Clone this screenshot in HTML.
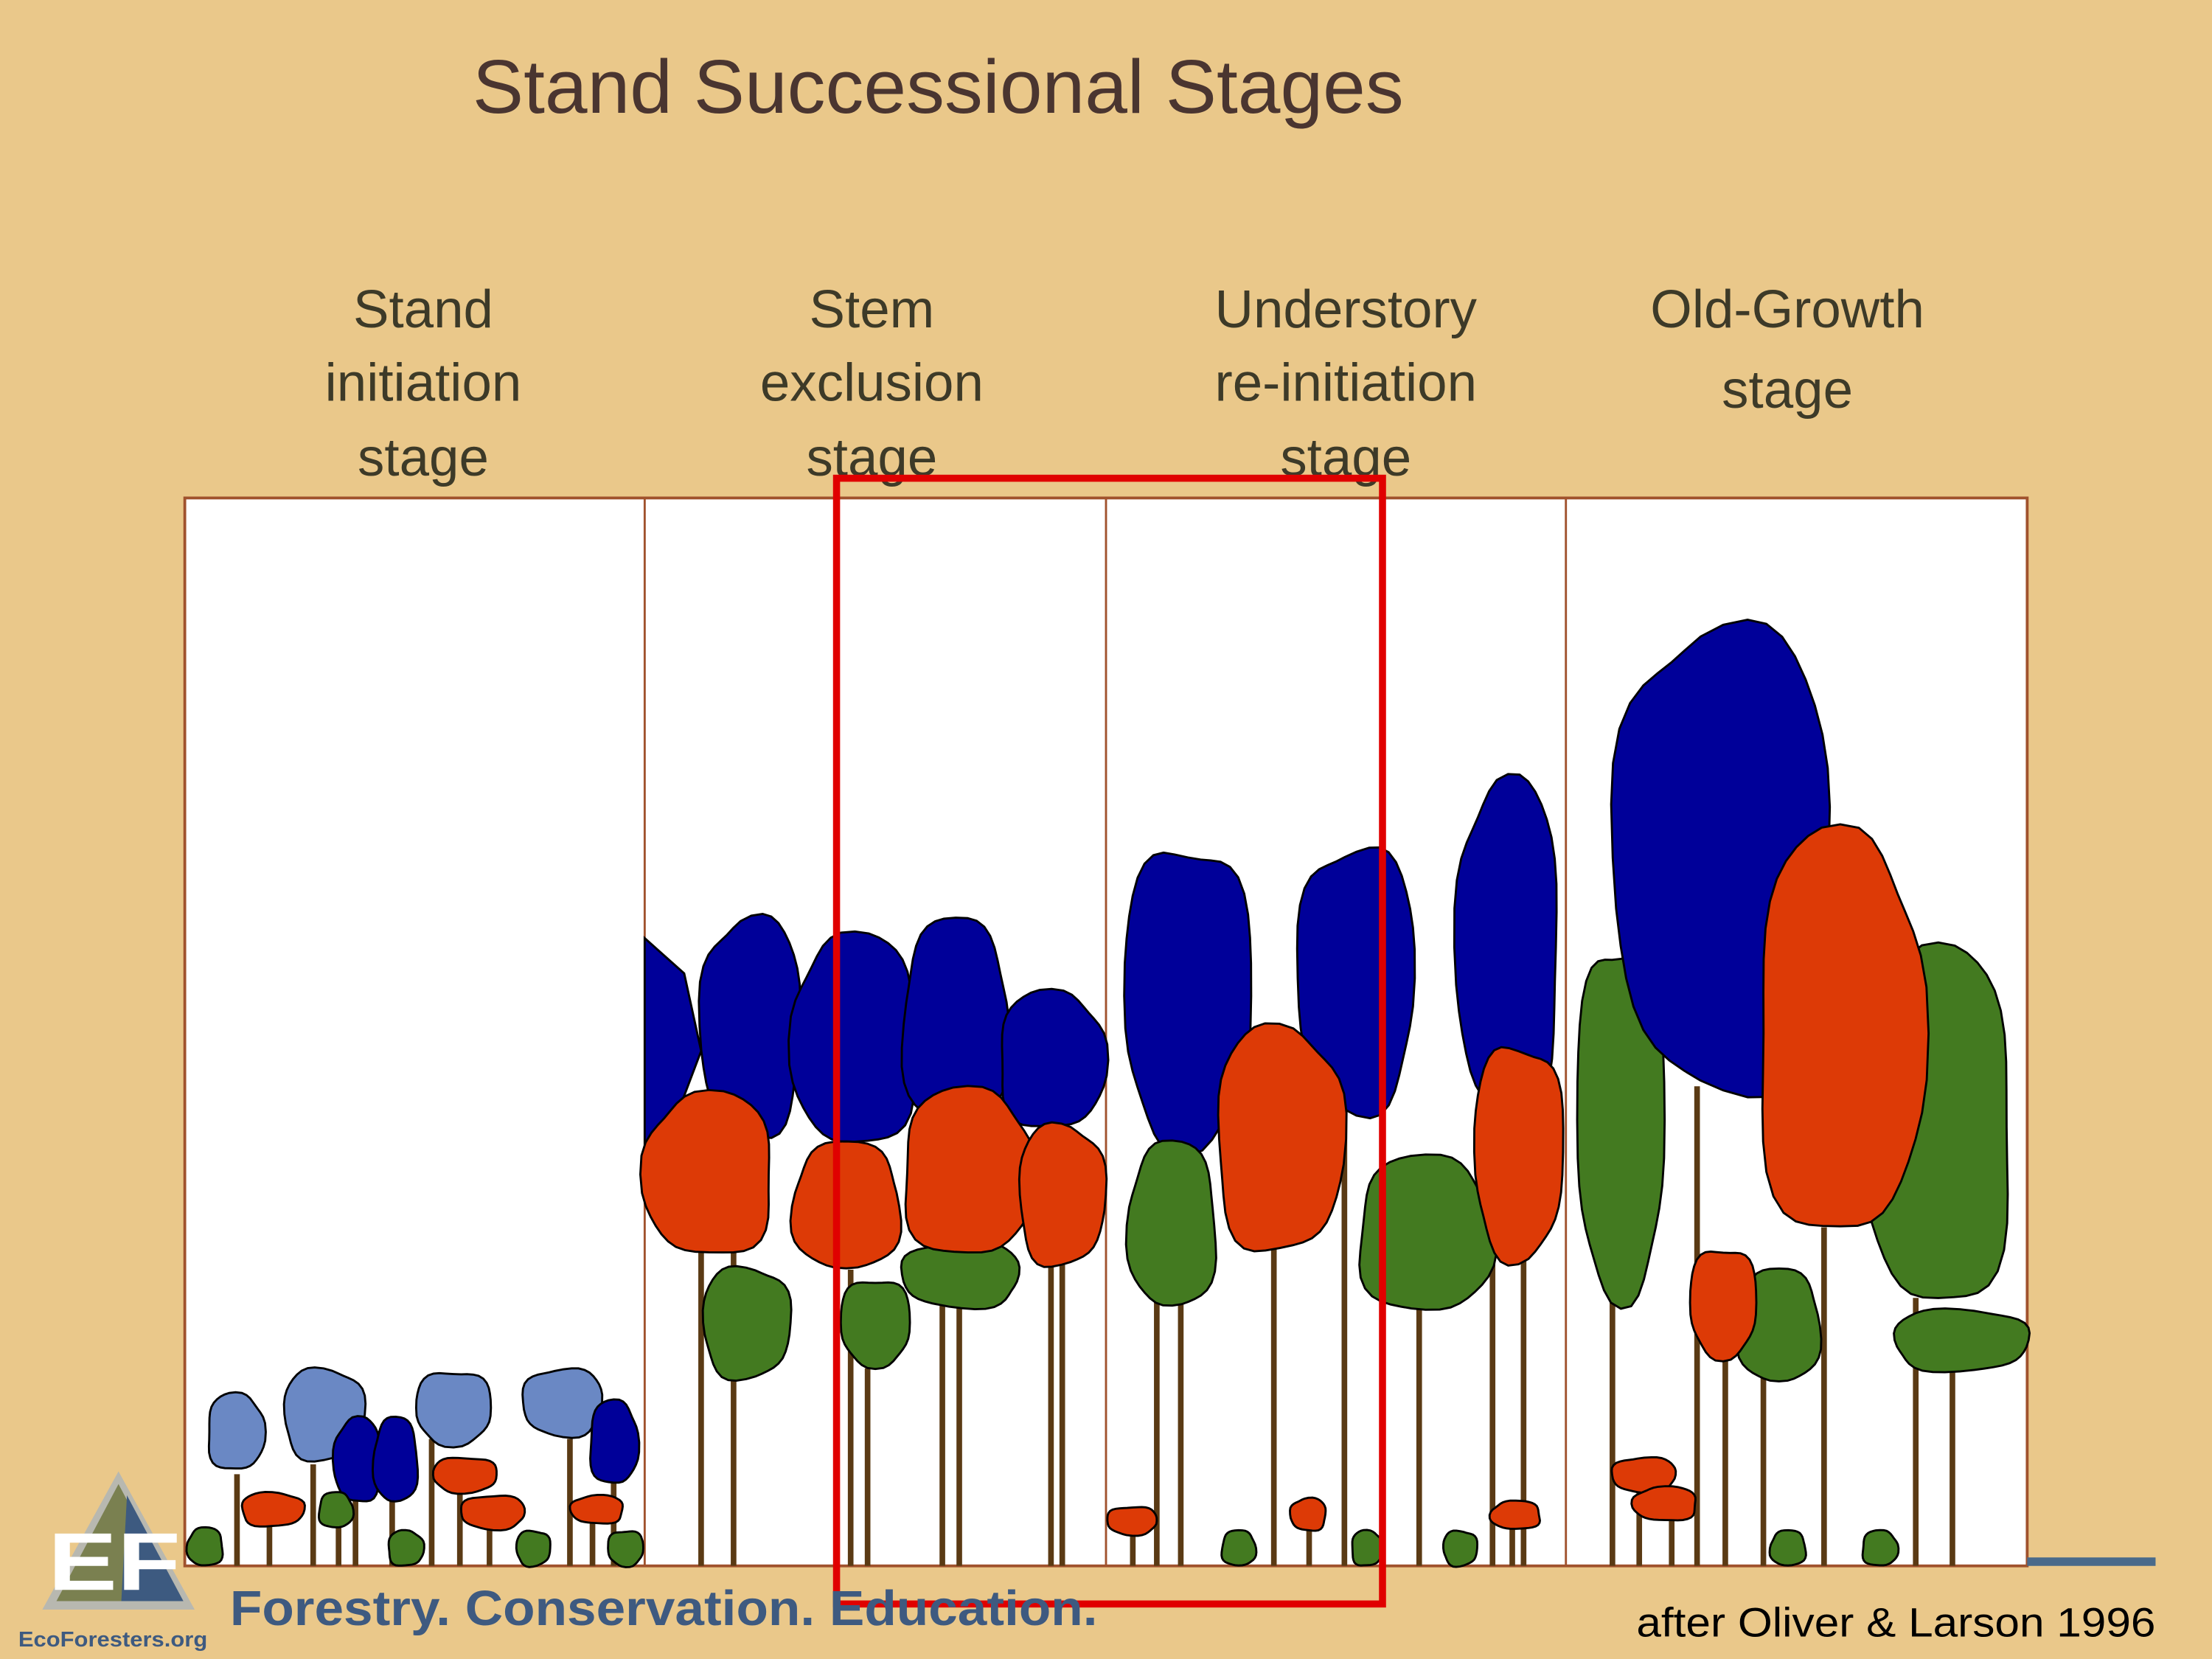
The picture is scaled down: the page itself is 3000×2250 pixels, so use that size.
<!DOCTYPE html>
<html><head><meta charset="utf-8"><style>
html,body{margin:0;padding:0;background:#EAC88A;}
svg{display:block}
text{font-family:"Liberation Sans",sans-serif}
</style></head><body>
<svg id="s" xmlns="http://www.w3.org/2000/svg" width="3000" height="2250" viewBox="0 0 1568 1176">
<rect width="1568" height="1176" fill="#EAC88A"/>
<text x="335" y="80" font-size="54" fill="#4a3530" textLength="660" lengthAdjust="spacingAndGlyphs">Stand Successional Stages</text>
<g font-size="38" fill="#3d3a28" text-anchor="middle">
<text x="300" y="232">Stand</text><text x="300" y="284">initiation</text><text x="300" y="337">stage</text>
<text x="618" y="232">Stem</text><text x="618" y="284">exclusion</text><text x="618" y="337">stage</text>
<text x="954" y="232">Understory</text><text x="954" y="284">re-initiation</text><text x="954" y="337">stage</text>
<text x="1267" y="232">Old-Growth</text><text x="1267" y="289">stage</text>
</g>
<rect x="131" y="353" width="1306" height="757" fill="#fff" stroke="#a0522d" stroke-width="2"/>
<g stroke="#a0522d" stroke-width="1.5"><line x1="457" y1="353" x2="457" y2="1110"/><line x1="784" y1="353" x2="784" y2="1110"/><line x1="1110" y1="353" x2="1110" y2="1110"/></g>
<g id="trunks" stroke="#5a3a14" stroke-width="4"></g>
<g id="crowns" stroke="#000" stroke-width="1.5"></g>
<line x1="1437" y1="1107" x2="1528" y2="1107" stroke="#4a6a8a" stroke-width="6"/>
<rect x="593" y="339" width="387" height="798" fill="none" stroke="#e00000" stroke-width="5"/>
<text x="163" y="1152" font-size="35" font-weight="bold" fill="#3e5a80" textLength="615" lengthAdjust="spacingAndGlyphs">Forestry. Conservation. Education.</text>
<text x="1160" y="1160" font-size="29" fill="#000" textLength="368" lengthAdjust="spacingAndGlyphs">after Oliver &amp; Larson 1996</text>
<!-- logo -->
<polygon points="84,1043 138,1141 30,1141" fill="#b8b8b0"/>
<polygon points="84,1052 128,1135 40,1135" fill="#7a8050"/>
<polygon points="90,1060 130,1135 86,1135" fill="#3d5a80"/>
<text x="34" y="1127" font-size="58" font-weight="bold" fill="#fff" textLength="94" lengthAdjust="spacingAndGlyphs">EF</text>
<text x="13" y="1167" font-size="15" font-weight="bold" fill="#3e5a80" textLength="134" lengthAdjust="spacingAndGlyphs">EcoForesters.org</text>
</svg>
<script>
var NS="http://www.w3.org/2000/svg";
var C=document.getElementById('crowns'),T=document.getElementById('trunks');
var seed=1;
function blob(x1,y1,x2,y2,col,s){
  var cx=(x1+x2)/2,cy=(y1+y2)/2,rx=(x2-x1)/2,ry=(y2-y1)/2,d="";
  s=s||seed++;
  for(var i=0;i<40;i++){
    var t=i/40*2*Math.PI,c=Math.cos(t),sn=Math.sin(t);
    var e=0.82,px=Math.sign(c)*Math.pow(Math.abs(c),e),py=Math.sign(sn)*Math.pow(Math.abs(sn),e);
    var r=1+0.05*Math.sin(3*t+s)+0.03*Math.sin(5*t+2*s);
    d+=(i?"L":"M")+(cx+rx*px*r).toFixed(1)+","+(cy+ry*py*r).toFixed(1);
  }
  var p=document.createElementNS(NS,"path");p.setAttribute("d",d+"Z");p.setAttribute("fill",col);C.appendChild(p);
}
function tr(x,y1,y2){var l=document.createElementNS(NS,"line");l.setAttribute("x1",x);l.setAttribute("x2",x);l.setAttribute("y1",y1);l.setAttribute("y2",y2||1110);T.appendChild(l);}
var B="#000099",R="#dd3a06",G="#437a20",LB="#6a88c4";
[[168,1045],[191,1075],[222,1038],[240,1070],[252,1060],[278,1060],[306,1020],[326,1050],[347,1080],[404,1020],[420,1075],[435,1045]].forEach(function(a){tr(a[0],a[1]);});
blob(147,988,187,1042,LB);blob(201,970,258,1035,LB);blob(295,972,348,1024,LB);blob(371,970,427,1018,LB);
blob(237,1005,270,1065,B);blob(265,1005,296,1065,B);blob(418,993,452,1052,B);
blob(171,1058,215,1082,R);blob(307,1033,352,1058,R);blob(327,1060,372,1084,R);blob(405,1060,442,1080,R);
blob(133,1083,158,1110,G);blob(226,1058,250,1083,G);blob(275,1085,300,1110,G);blob(366,1085,390,1110,G);blob(431,1085,456,1110,G);
[[497,885],[520,880],[603,900],[615,970],[668,880],[680,880],[745,890],[753,890]].forEach(function(a){tr(a[0],a[1]);});
var p=document.createElementNS(NS,"path");p.setAttribute("d","M457,665 L485,690 L497,745 L480,790 L457,810 Z");p.setAttribute("fill",B);C.appendChild(p);
blob(497,650,568,805,B);blob(562,663,650,812,B);blob(640,652,715,800,B);blob(708,703,783,800,B);
blob(498,898,560,977,G);blob(596,907,645,968,G);blob(640,880,723,927,G);
blob(457,775,548,890,R);blob(562,810,638,900,R);blob(640,772,732,890,R);blob(722,797,783,897,R);
[[820,920],[837,900],[903,880],[953,780],[1006,920],[1058,870],[1080,880],[803,1080],[928,1080],[1072,1080]].forEach(function(a){tr(a[0],a[1]);});
blob(797,600,887,812,B);blob(920,600,1003,787,B);blob(1033,553,1105,790,B);
blob(800,810,862,927,G);blob(963,820,1058,930,G);
blob(862,728,952,887,R);blob(1045,741,1108,892,R);
blob(785,1068,820,1088,R);blob(915,1062,940,1085,R);blob(1057,1064,1092,1084,R);
blob(866,1085,890,1110,G);blob(958,1085,980,1110,G);blob(1023,1085,1047,1110,G);
[[1143,910],[1203,770],[1223,960],[1250,975],[1293,870],[1358,920],[1384,965],[1162,1050],[1185,1070]].forEach(function(a){tr(a[0],a[1]);});
blob(1118,670,1180,918,G);blob(1145,443,1298,773,B);blob(1322,673,1426,925,G);
blob(1232,900,1290,980,G);blob(1246,590,1363,875,R);blob(1342,928,1437,972,G);
blob(1198,885,1245,962,R);blob(1143,1033,1188,1058,R);blob(1158,1054,1203,1078,R);
blob(1255,1085,1280,1110,G);blob(1320,1085,1345,1110,G);
</script>
</body></html>
